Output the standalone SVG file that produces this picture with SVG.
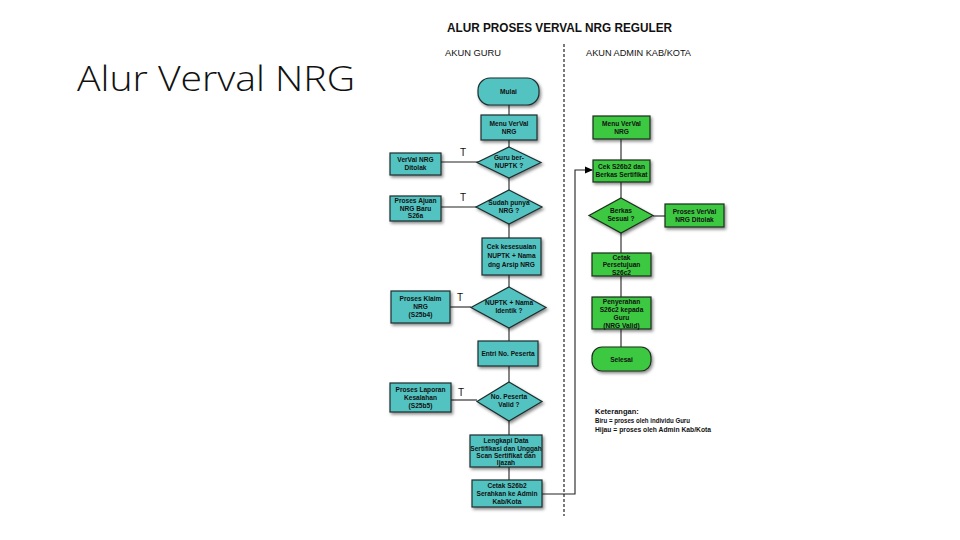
<svg xmlns="http://www.w3.org/2000/svg" width="960" height="540" viewBox="0 0 960 540">
<defs>
<filter id="sh" x="-20%" y="-20%" width="150%" height="160%">
<feDropShadow dx="1.5" dy="2" stdDeviation="1.5" flood-color="#000" flood-opacity="0.45"/>
</filter>
<marker id="arr" markerWidth="8" markerHeight="8" refX="7" refY="4" orient="auto" markerUnits="userSpaceOnUse">
<path d="M0,0.5 L8,4 L0,7.5 z" fill="#000"/>
</marker>
</defs>
<style>
.b{fill:#52c3c1;stroke:#1d2e2e;stroke-width:1.2;filter:url(#sh)}
.g{fill:#3ec843;stroke:#1c2e1c;stroke-width:1.2;filter:url(#sh)}
.t{font-family:"Liberation Sans",Arial,sans-serif;font-size:6.6px;font-weight:bold;fill:#111;text-anchor:middle}
.ln{stroke:#222;stroke-width:1.1;fill:none}
.T{font-family:"Liberation Sans",Arial,sans-serif;font-size:10px;fill:#111}
.h{font-family:"Liberation Sans",Arial,sans-serif;font-size:9px;fill:#111}
.k{font-family:"Liberation Sans",Arial,sans-serif;font-size:7.5px;font-weight:bold;fill:#111}
</style>
<rect width="960" height="540" fill="#fff"/>
<text x="77" y="91" font-family="'Open Sans','Liberation Sans',sans-serif" font-size="34" font-weight="300" fill="#111" textLength="278" lengthAdjust="spacingAndGlyphs">Alur Verval NRG</text>
<text x="447" y="32" font-family="'Liberation Sans',Arial,sans-serif" font-size="13" font-weight="bold" fill="#111" textLength="225" lengthAdjust="spacingAndGlyphs">ALUR PROSES VERVAL NRG REGULER</text>
<text x="445" y="56" class="h" textLength="56" lengthAdjust="spacingAndGlyphs">AKUN GURU</text>
<text x="586" y="56" class="h" textLength="105" lengthAdjust="spacingAndGlyphs">AKUN ADMIN KAB/KOTA</text>
<line x1="564" y1="44" x2="564" y2="516" stroke="#222" stroke-width="1.2" stroke-dasharray="3,2"/>
<g id="connectors">
<line class="ln" x1="509" y1="105" x2="509" y2="115"/>
<line class="ln" x1="509" y1="140" x2="509" y2="147"/>
<line class="ln" x1="509" y1="178" x2="509" y2="190"/>
<line class="ln" x1="509" y1="224" x2="509" y2="238"/>
<line class="ln" x1="509" y1="275" x2="509" y2="287"/>
<line class="ln" x1="509" y1="328" x2="509" y2="341"/>
<line class="ln" x1="509" y1="366" x2="509" y2="382"/>
<line class="ln" x1="509" y1="421" x2="509" y2="435"/>
<line class="ln" x1="509" y1="467" x2="509" y2="480"/>
<line class="ln" x1="441" y1="162" x2="478" y2="162"/>
<line class="ln" x1="441" y1="207" x2="477" y2="207"/>
<line class="ln" x1="450" y1="307" x2="471" y2="307"/>
<line class="ln" x1="451" y1="400" x2="477" y2="400"/>
<path class="ln" d="M542,494 H575 V170 H592" marker-end="url(#arr)"/>
<line class="ln" x1="621" y1="139" x2="621" y2="160"/>
<line class="ln" x1="621" y1="182" x2="621" y2="198"/>
<line class="ln" x1="621" y1="233" x2="621" y2="253"/>
<line class="ln" x1="653" y1="216" x2="665" y2="216"/>
<line class="ln" x1="621" y1="276" x2="621" y2="297"/>
<line class="ln" x1="621" y1="329" x2="621" y2="347"/>
<text x="460" y="156" class="T">T</text>
<text x="460" y="201" class="T">T</text>
<text x="457" y="301" class="T">T</text>
<text x="458" y="396" class="T">T</text>
</g>
<g id="mulai"><rect class="b" x="478" y="78" width="61" height="27" rx="12"/><text class="t" x="508.5" y="94">Mulai</text></g>
<g id="menu-guru"><rect class="b" x="481" y="115" width="56" height="25"/><text class="t" x="509" y="125.5">Menu VerVal</text><text class="t" x="509" y="133.5">NRG</text></g>
<g id="d-nuptk"><polygon class="b" points="509,147 541,162.5 509,178 477,162.5"/><text class="t" x="509" y="160">Guru ber-</text><text class="t" x="509" y="168">NUPTK ?</text></g>
<g id="ditolak-guru"><rect class="b" x="390" y="153" width="51" height="22"/><text class="t" x="415.5" y="162">VerVal NRG</text><text class="t" x="415.5" y="170">Ditolak</text></g>
<g id="d-nrg"><polygon class="b" points="509,190 542,207 509,224 476,207"/><text class="t" x="509" y="205">Sudah punya</text><text class="t" x="509" y="213">NRG ?</text></g>
<g id="ajuan"><rect class="b" x="390" y="196" width="51" height="25"/><text class="t" x="415.5" y="203">Proses Ajuan</text><text class="t" x="415.5" y="210.5">NRG Baru</text><text class="t" x="415.5" y="218">S26a</text></g>
<g id="cek-guru"><rect class="b" x="482" y="238" width="59" height="37"/><text class="t" x="511.5" y="249">Cek kesesuaian</text><text class="t" x="511.5" y="258">NUPTK + Nama</text><text class="t" x="511.5" y="267">dng Arsip NRG</text></g>
<g id="d-identik"><polygon class="b" points="509,287 546,307.5 509,328 471,307.5"/><text class="t" x="509" y="305">NUPTK + Nama</text><text class="t" x="509" y="313">Identik ?</text></g>
<g id="klaim"><rect class="b" x="391" y="291" width="59" height="32"/><text class="t" x="420.5" y="301">Proses Klaim</text><text class="t" x="420.5" y="309">NRG</text><text class="t" x="420.5" y="317">(S25b4)</text></g>
<g id="entri"><rect class="b" x="478" y="341" width="60" height="25"/><text class="t" x="508" y="356">Entri No. Peserta</text></g>
<g id="d-valid"><polygon class="b" points="509,382 542,401.5 509,421 477,401.5"/><text class="t" x="509" y="399">No. Peserta</text><text class="t" x="509" y="407">Valid ?</text></g>
<g id="laporan"><rect class="b" x="390" y="383" width="61" height="29"/><text class="t" x="420.5" y="392">Proses Laporan</text><text class="t" x="420.5" y="400">Kesalahan</text><text class="t" x="420.5" y="408">(S25b5)</text></g>
<g id="lengkapi"><rect class="b" x="470" y="435" width="72" height="32"/><text class="t" x="506" y="443">Lengkapi Data</text><text class="t" x="506" y="450.5">Sertifikasi dan Unggah</text><text class="t" x="506" y="458">Scan Sertifikat dan</text><text class="t" x="506" y="465">Ijazah</text></g>
<g id="cetak-guru"><rect class="b" x="472" y="480" width="70" height="27"/><text class="t" x="507" y="488">Cetak S26b2</text><text class="t" x="507" y="496">Serahkan ke Admin</text><text class="t" x="507" y="504">Kab/Kota</text></g>
<g id="menu-admin"><rect class="g" x="593" y="116" width="57" height="23"/><text class="t" x="621.5" y="126">Menu VerVal</text><text class="t" x="621.5" y="134">NRG</text></g>
<g id="cek-admin"><rect class="g" x="593" y="160" width="57" height="22"/><text class="t" x="621.5" y="169">Cek S26b2 dan</text><text class="t" x="621.5" y="177">Berkas Sertifikat</text></g>
<g id="d-berkas"><polygon class="g" points="621,198 653,215.5 621,233 589,215.5"/><text class="t" x="621" y="213">Berkas</text><text class="t" x="621" y="221">Sesuai ?</text></g>
<g id="ditolak-admin"><rect class="g" x="665" y="204" width="59" height="23"/><text class="t" x="694.5" y="213.5">Proses VerVal</text><text class="t" x="694.5" y="221.5">NRG Ditolak</text></g>
<g id="cetak-admin"><rect class="g" x="592" y="253" width="59" height="23"/><text class="t" x="621.5" y="259.5">Cetak</text><text class="t" x="621.5" y="267">Persetujuan</text><text class="t" x="621.5" y="274.5">S26c2</text></g>
<g id="penyerahan"><rect class="g" x="592" y="297" width="59" height="32"/><text class="t" x="621.5" y="304">Penyerahan</text><text class="t" x="621.5" y="312">S26c2 kepada</text><text class="t" x="621.5" y="320">Guru</text><text class="t" x="621.5" y="328">(NRG Valid)</text></g>
<g id="selesai"><rect class="g" x="592" y="347" width="59" height="24" rx="10"/><text class="t" x="621.5" y="362">Selesai</text></g>
<g id="keterangan">
<text x="595" y="414" class="k">Keterangan:</text>
<text x="595" y="423" class="k" textLength="95" lengthAdjust="spacingAndGlyphs">Biru = proses oleh individu Guru</text>
<text x="595" y="432" class="k" textLength="116" lengthAdjust="spacingAndGlyphs">Hijau = proses oleh Admin Kab/Kota</text>
</g>
</svg>
